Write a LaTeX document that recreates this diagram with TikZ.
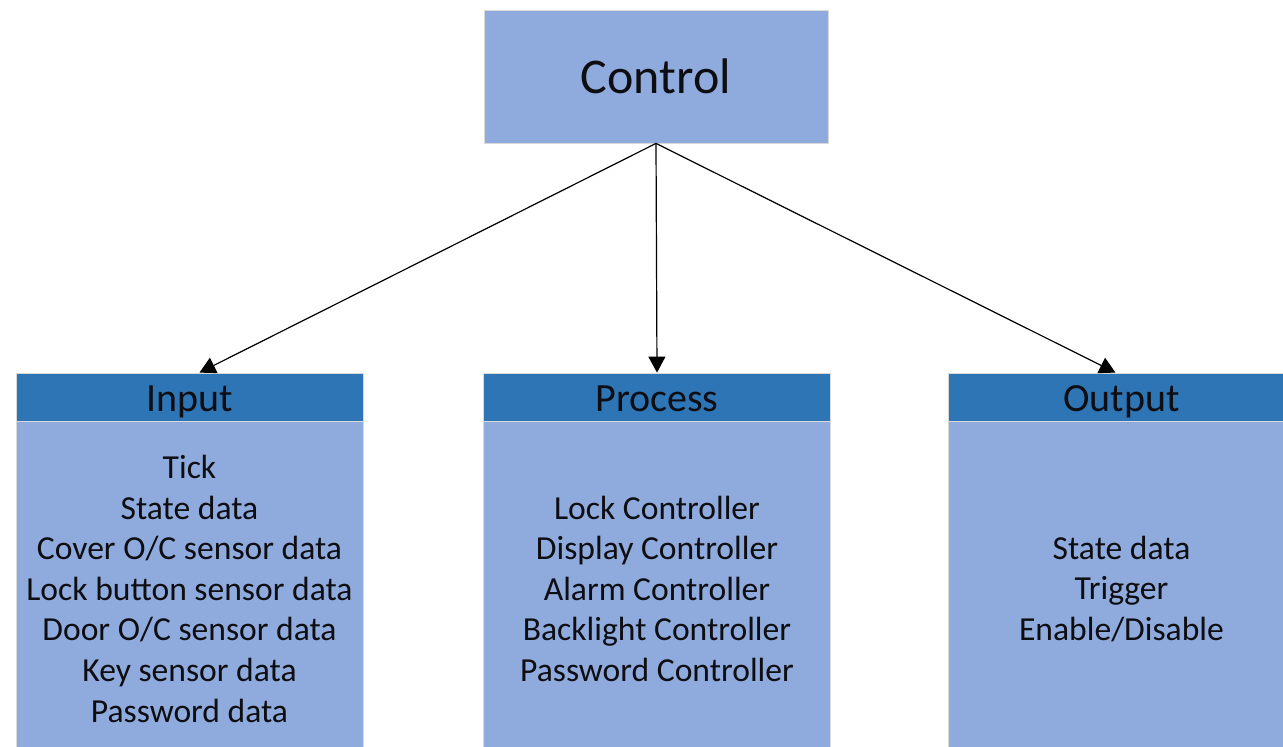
\documentclass[tikz,border=0pt]{standalone}
\usepackage{fontspec}
\setmainfont{Carlito}
\usetikzlibrary{arrows.meta,positioning}
\definecolor{boxfill}{RGB}{143,170,220}
\definecolor{headfill}{RGB}{46,117,182}
\definecolor{ink}{RGB}{14,14,18}

\begin{document}
\begin{tikzpicture}[x=1pt,y=-1pt,
    block/.style={fill=boxfill,draw=black!15,line width=0.8pt,
      inner sep=0pt,align=center,text=ink},
    head/.style={block,fill=headfill,minimum width=347pt,
      minimum height=48pt,text height=28pt,text depth=0pt,
      font=\fontsize{40}{48}\selectfont},
    body/.style={block,minimum width=347pt,minimum height=334pt,
      font=\fontsize{33.6}{40.6}\selectfont},
    link/.style={-{Triangle[length=16pt,width=17pt]},line width=1.2pt}]
  \useasboundingbox (0,0) rectangle (1283,747);
  \clip (0,0) rectangle (1283,747);
  \node[block,minimum width=344pt,minimum height=133pt,
    font=\fontsize{50}{60}\selectfont] (control) at (656,76.5) {Control};
  % the three columns
  \node[head] (inhead) at (189.5,397) {Input};
  \node[body,below=0pt of inhead] (inbody) {Tick\\State data\\
    Cover O/C sensor data\\Lock button sensor data\\
    Door O/C sensor data\\Key sensor data\\Password data};
  \node[head] (prochead) at (657,397) {Process};
  \node[body,below=0pt of prochead] (procbody) {Lock Controller\\
    Display Controller\\Alarm Controller\\Backlight Controller\\
    Password Controller};
  \node[head] (outhead) at (1121.5,397) {Output};
  \node[body,below=0pt of outhead] (outbody) {State data\\Trigger\\
    Enable/Disable};
  % arrows
  \draw[link] (control.south) -- ([xshift=10pt]inhead.north);
  \draw[link] (control.south) -- (prochead.north);
  \draw[link] (control.south) -- ([xshift=-6pt]outhead.north);
\end{tikzpicture}
\end{document}
